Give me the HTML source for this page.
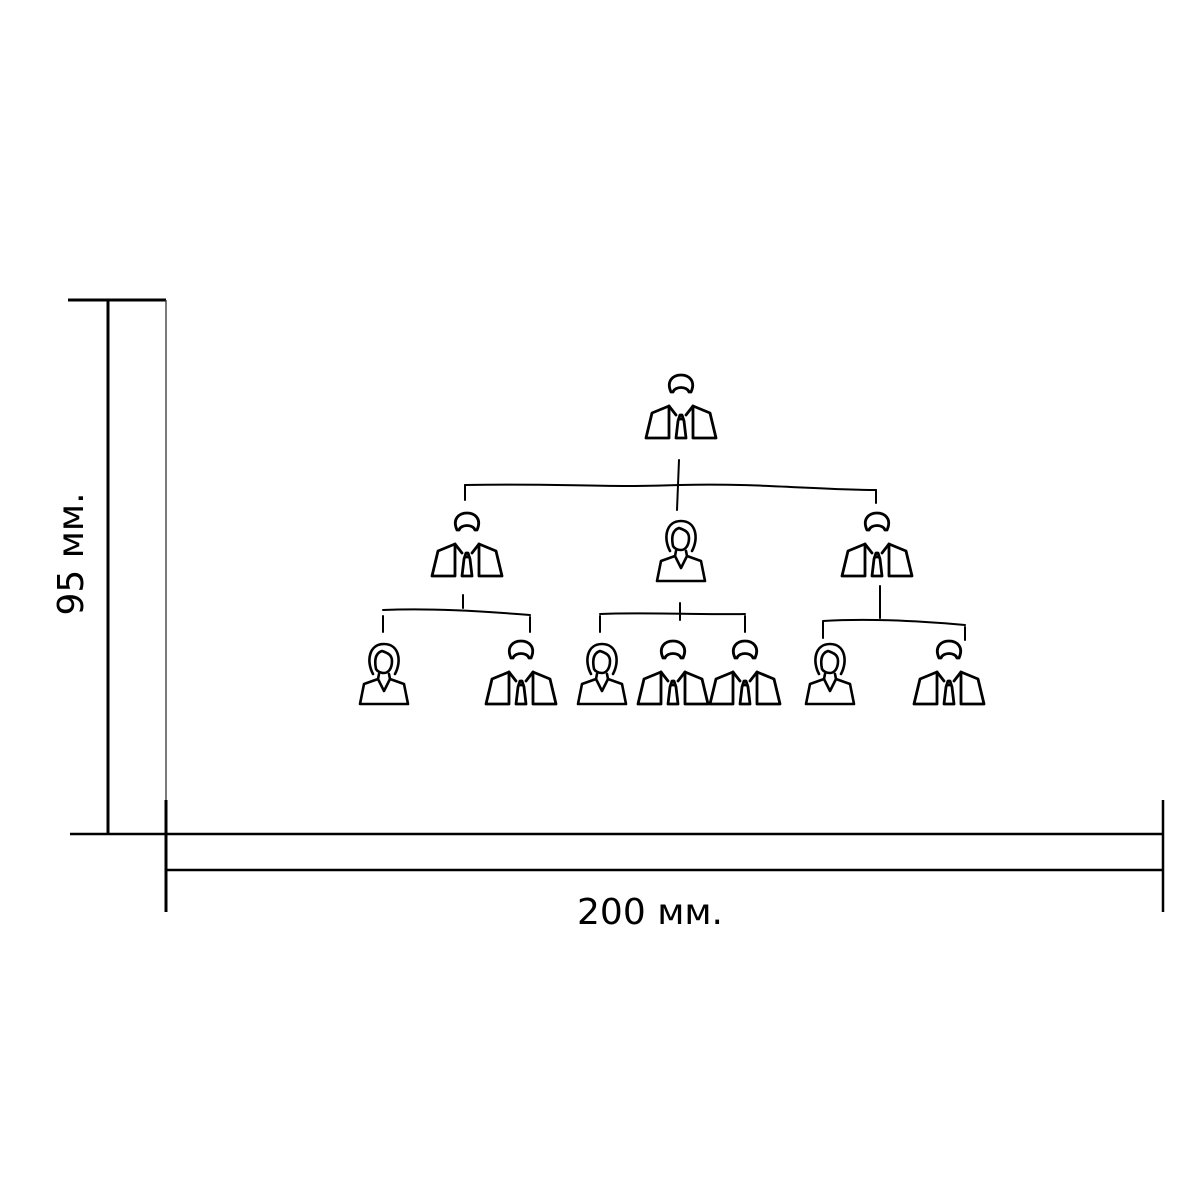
<!DOCTYPE html>
<html><head><meta charset="utf-8"><style>
html,body{margin:0;padding:0;background:#fff;width:1200px;height:1200px;overflow:hidden}
</style></head><body>
<svg width="1200" height="1200" viewBox="0 0 1200 1200" xmlns="http://www.w3.org/2000/svg">
<defs>
<g id="man" fill="none" stroke="#000" stroke-width="2.8" stroke-linejoin="round" stroke-linecap="round">
  <path d="M-10,17 C-15,6 -8,0 0,0 C8,0 15,6 10,17 L8,17 C6,11 -6,11 -8,17 Z"/>
  <path d="M-12,31 L-29,38 L-35,63 L-12,63 Z"/>
  <path d="M12,31 L29,38 L35,63 L12,63 Z"/>
  <path d="M-12,31 L-5,40 M12,31 L5,40"/>
  <path d="M-5,63 L-3,46 L-1,40 L1,40 L3,46 L5,63 Z M-2,44 L2,44"/>
</g>
<g id="woman" fill="none" stroke="#000" stroke-width="2.6" stroke-linejoin="round" stroke-linecap="round">
  <path d="M-11,31 C-18,18 -15,1 0,1 C15,1 18,18 11,31"/>
  <path d="M-8,26 C-10,16 -8,10 -2,8 C4,10 8,12 8,18 C8,26 4,30 0,30 C-4,30 -7,28 -8,26 Z"/>
  <path d="M-5,31 L-6,36 L-20,41 L-24,61 L24,61 L20,41 L6,36 L5,31"/>
  <path d="M-6,36 L0,48 L6,36"/>
</g>
</defs>

<g stroke="#000" fill="none">
  <line x1="68" y1="300" x2="166" y2="300" stroke-width="3"/>
  <line x1="108" y1="300" x2="108" y2="834" stroke-width="3"/>
  <line x1="166" y1="300" x2="166" y2="800" stroke-width="1.3" stroke="#333"/>
  <line x1="166" y1="800" x2="166" y2="912" stroke-width="3"/>
  <line x1="70" y1="834" x2="1164" y2="834" stroke-width="2.5"/>
  <line x1="166" y1="870" x2="1164" y2="870" stroke-width="2.5"/>
  <line x1="1163" y1="800" x2="1163" y2="912" stroke-width="2.5"/>
</g>
<text x="650" y="924" font-family="DejaVu Sans, sans-serif" font-size="36" text-anchor="middle" fill="#000">200 мм.</text>
<text transform="translate(83,554) rotate(-90)" font-family="DejaVu Sans, sans-serif" font-size="36" text-anchor="middle" fill="#000">95 мм.</text>

<g stroke="#000" stroke-width="2" fill="none" stroke-linecap="round">
  <path d="M679,460 L677,510"/>
  <path d="M465,485 C560,483 600,488 680,485 C760,483 820,490 876,490"/>
  <path d="M465,485 L465,500 M876,490 L876,503"/>
  <path d="M463,595 L463,608"/>
  <path d="M383,610 C430,608 480,611 530,615"/>
  <path d="M383,616 L383,632 M530,617 L530,632"/>
  <path d="M680,603 L680,620"/>
  <path d="M600,614 C650,612 700,615 745,614"/>
  <path d="M600,616 L600,632 M745,616 L745,632"/>
  <path d="M880,586 L880,618"/>
  <path d="M823,621 C870,618 920,621 965,625"/>
  <path d="M823,622 L823,638 M965,627 L965,640"/>
</g>

<use href="#man" transform="translate(681,375)"/>
<use href="#man" transform="translate(467,513)"/>
<use href="#man" transform="translate(877,513)"/>
<use href="#woman" transform="translate(681,520)"/>
<use href="#man" transform="translate(521,641)"/>
<use href="#man" transform="translate(673,641)"/>
<use href="#man" transform="translate(745,641)"/>
<use href="#man" transform="translate(949,641)"/>
<use href="#woman" transform="translate(384,643)"/>
<use href="#woman" transform="translate(602,643)"/>
<use href="#woman" transform="translate(830,643)"/>
</svg>
</body></html>
